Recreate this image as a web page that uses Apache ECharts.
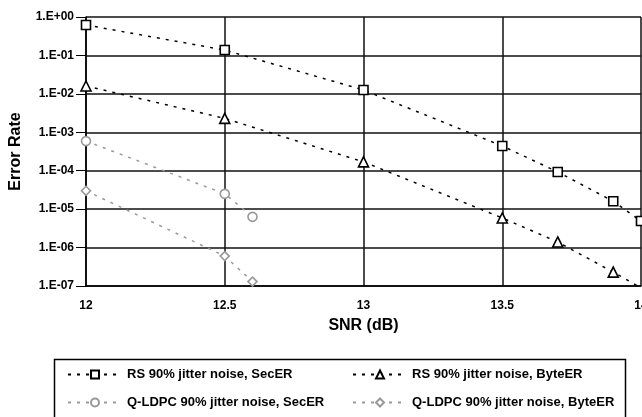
<!DOCTYPE html>
<html>
<head>
<meta charset="utf-8">
<script src="https://cdn.jsdelivr.net/npm/echarts@6/dist/echarts.min.js"></script>
<style>
  html, body { margin: 0; padding: 0; background: #fff; }
  #chart { width: 642px; height: 417px; }
</style>
</head>
<body>
<div id="chart"></div>
<script>
// values
const snrRs = [12, 12.5, 13, 13.5, 13.7, 13.9, 14];
const rsSecEr = [0.62, 0.138, 0.0126, 4.4e-4, 9.3e-5, 1.6e-5, 4.9e-6];
const rsByteEr = [0.016, 2.3e-3, 1.7e-4, 5.9e-6, 1.4e-6, 2.3e-7, 9e-8];

const snrLdpc = [12, 12.5, 12.6];
const ldpcSecEr = [5.9e-4, 2.5e-5, 6.3e-6];
const ldpcByteEr = [3.0e-5, 6.0e-7, 1.3e-7];

const names = [
    'RS 90% jitter noise, SecER',
    'RS 90% jitter noise, ByteER',
    'Q-LDPC 90% jitter noise, SecER',
    'Q-LDPC 90% jitter noise, ByteER'
];

const zip = (xs, ys) => xs.map((x, i) => [x, ys[i]]);
const font = 'Liberation Sans, Arial, sans-serif';

const makeSeries = (name, xs, ys, symbol, size, color) => ({
    name: name,
    type: 'line',
    data: zip(xs, ys),
    symbol: symbol,
    symbolSize: size,
    lineStyle: { color: color, width: 1.5, type: [3, 6] },
    itemStyle: { color: '#fff', borderColor: color, borderWidth: 1.6 },
    emphasis: { disabled: true },
    animation: false
});

const legendAt = (name, left, top) => ({
    data: [name],
    left: left,
    top: top,
    itemWidth: 54,
    itemHeight: 10,
    textStyle: { fontFamily: font, fontWeight: 'bold', fontSize: 13, color: '#000' }
});

const chart = echarts.init(document.getElementById('chart'));

chart.setOption({
    backgroundColor: '#fff',
    animation: false,
    grid: { left: 86, right: 1, top: 17, bottom: 131, outerBoundsMode: 'none', containLabel: false },
    xAxis: {
        type: 'value',
        min: 12,
        max: 14,
        interval: 0.5,
        name: 'SNR (dB)',
        nameLocation: 'middle',
        nameGap: 32,
        nameTextStyle: { fontFamily: font, fontWeight: 'bold', fontSize: 16, color: '#000' },
        axisLine: { lineStyle: { color: '#000', width: 1.5 } },
        axisTick: { show: false },
        axisLabel: { fontFamily: font, fontWeight: 'bold', fontSize: 12, color: '#000', margin: 14 },
        splitLine: { show: true, lineStyle: { color: '#111', width: 1.5 } }
    },
    yAxis: {
        type: 'log',
        logBase: 10,
        min: 1e-7,
        max: 1,
        splitNumber: 7,
        name: 'Error Rate',
        nameLocation: 'middle',
        nameGap: 62,
        nameTextStyle: { fontFamily: font, fontWeight: 'bold', fontSize: 16, color: '#000' },
        axisLine: { show: true, lineStyle: { color: '#000', width: 1.5 } },
        axisTick: { show: true, length: 10, lineStyle: { color: '#000' } },
        minorTick: { show: false },
        axisLabel: {
            fontFamily: font, fontWeight: 'bold', fontSize: 12, color: '#000', margin: 12,
            formatter: v => {
                const e = Math.round(Math.log10(v));
                return '1.E' + (e < 0 ? '-' : '+') + String(Math.abs(e)).padStart(2, '0');
            }
        },
        splitLine: { show: true, lineStyle: { color: '#111', width: 1.5 } }
    },
    legend: [
        legendAt(names[0], 62, 363),
        legendAt(names[1], 347, 363),
        legendAt(names[2], 62, 391),
        legendAt(names[3], 347, 391)
    ],
    graphic: [{
        type: 'rect',
        shape: { x: 54.5, y: 359.5, width: 571, height: 70 },
        style: { fill: 'none', stroke: '#000', lineWidth: 1.5 },
        silent: true
    }],
    series: [
        makeSeries(names[0], snrRs, rsSecEr, 'rect', 9, '#000'),
        makeSeries(names[1], snrRs, rsByteEr, 'triangle', 10, '#000'),
        makeSeries(names[2], snrLdpc, ldpcSecEr, 'circle', 9, '#999'),
        makeSeries(names[3], snrLdpc, ldpcByteEr, 'diamond', 9, '#999')
    ]
});
</script>
</body>
</html>
